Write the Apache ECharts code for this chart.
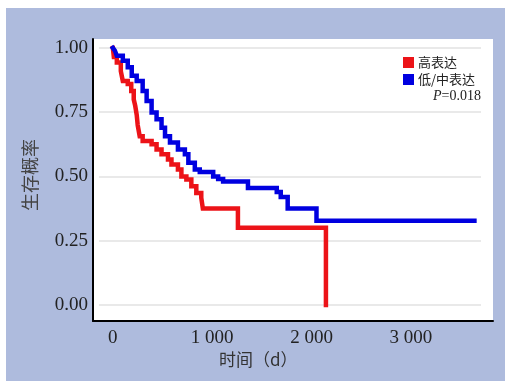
<!DOCTYPE html>
<html>
<head>
<meta charset="utf-8">
<script src="https://cdn.jsdelivr.net/npm/echarts@6/dist/echarts.min.js"></script>
<style>
  html, body { margin: 0; padding: 0; background: #fff; }
  #km { position: absolute; left: 6px; top: 8px; width: 499px; height: 373px; }
</style>
</head>
<body>
<div id="km"></div>
<script>
// 生存曲线 (Kaplan-Meier)
const highExpr = [
  [0, 1.0], [10, 0.965], [40, 0.944], [80, 0.91], [100, 0.872], [150, 0.86],
  [185, 0.833], [210, 0.80], [225, 0.775], [240, 0.74], [250, 0.70], [270, 0.657], [300, 0.638],
  [390, 0.625], [440, 0.605], [490, 0.586], [555, 0.566], [590, 0.547],
  [655, 0.527], [690, 0.50], [740, 0.488], [790, 0.462], [840, 0.436],
  [890, 0.417], [906, 0.375], [1259, 0.30], [2145, 0.30], [2145, 0]
]
const lowMidExpr = [
  [0, 1.0], [20, 0.99], [40, 0.97], [100, 0.95], [150, 0.925], [190, 0.892],
  [240, 0.872], [300, 0.833], [340, 0.794], [390, 0.749], [440, 0.723],
  [490, 0.69], [525, 0.657], [575, 0.632], [655, 0.605], [725, 0.586],
  [760, 0.553], [825, 0.527], [875, 0.517], [1010, 0.50], [1060, 0.49],
  [1110, 0.48], [1360, 0.455], [1650, 0.44], [1690, 0.42], [1760, 0.375],
  [2050, 0.328], [3640, 0.328]
]
const xTicks = [0, 1000, 2000, 3000]
const yTicks = [0, 0.25, 0.5, 0.75, 1]
const seriesNames = ['高表达', '低/中表达']
const pText = '0.018'

const serif = '"Liberation Serif", "Times New Roman", serif'
const cjk = '"Noto Sans CJK SC", sans-serif'

let myChart = echarts.init(document.getElementById('km'))

let option = {
  backgroundColor: '#aebbdd',
  animation: false,
  grid: {
    left: 87, right: 12, top: 31, bottom: 60,
    show: true, backgroundColor: '#fff', borderWidth: 0
  },
  legend: {
    data: seriesNames,
    orient: 'vertical',
    left: 397, top: 48,
    padding: 0,
    itemWidth: 11, itemHeight: 11, itemGap: 4,
    icon: 'rect',
    textStyle: { fontFamily: cjk, fontSize: 13, lineHeight: 13, color: '#222', padding: [0, 0, 0, -1] }
  },
  graphic: [
    {
      type: 'text', left: 213, top: 343,
      style: { text: '时间（d）', font: '17px ' + cjk, fill: '#333' }
    },
    {
      type: 'text', x: 24, y: 167, rotation: Math.PI / 2,
      style: { text: '生存概率', font: '18px ' + cjk, fill: '#444',
        align: 'center', verticalAlign: 'middle' }
    },
    {
      type: 'text', right: 24, top: 81,
      style: {
        text: '{i|P}=' + pText,
        rich: { i: { fontStyle: 'italic', fontFamily: serif, fontSize: 14, fill: '#222' } },
        font: '14px ' + serif, fill: '#222'
      }
    }
  ],
  xAxis: {
    type: 'value',
    min: -200, max: 3827,
    splitLine: { show: false },
    axisTick: { show: false },
    axisLine: { onZero: false, lineStyle: { color: '#000', width: 2 } },
    axisLabel: {
      margin: 8,
      color: '#222', fontFamily: serif, fontSize: 19,
      customValues: xTicks,
      formatter: (v) => v >= 1000 ? Math.floor(v / 1000) + ' 000' : String(v)
    }
  },
  yAxis: {
    type: 'value',
    min: -0.0625, max: 1.035,
    splitLine: { show: false },
    axisTick: { show: false },
    axisLine: { show: true, onZero: false, lineStyle: { color: '#000', width: 2 } },
    axisLabel: {
      margin: 5,
      color: '#222', fontFamily: serif, fontSize: 19,
      customValues: yTicks,
      formatter: (v) => v.toFixed(2)
    }
  },
  series: [
    {
      name: 'grid',
      type: 'line',
      data: [],
      silent: true,
      z: 1,
      markLine: {
        z: 1,
        silent: true,
        symbol: 'none',
        label: { show: false },
        lineStyle: { color: '#e2e2e2', width: 1.5, type: 'solid' },
        data: yTicks.map(t => [{ coord: [-140, t] }, { coord: [3706, t] }])
      }
    },
    {
      name: seriesNames[0],
      type: 'line',
      step: 'end',
      data: highExpr,
      showSymbol: false,
      color: '#ec1318',
      lineStyle: { width: 4.5, color: '#ec1318', join: 'miter', cap: 'square' },
      z: 3
    },
    {
      name: seriesNames[1],
      type: 'line',
      step: 'end',
      data: lowMidExpr,
      showSymbol: false,
      color: '#0000e0',
      lineStyle: { width: 4.5, color: '#0000e0', join: 'miter', cap: 'square' },
      z: 4
    }
  ]
}

myChart.setOption(option)
</script>
</body>
</html>
